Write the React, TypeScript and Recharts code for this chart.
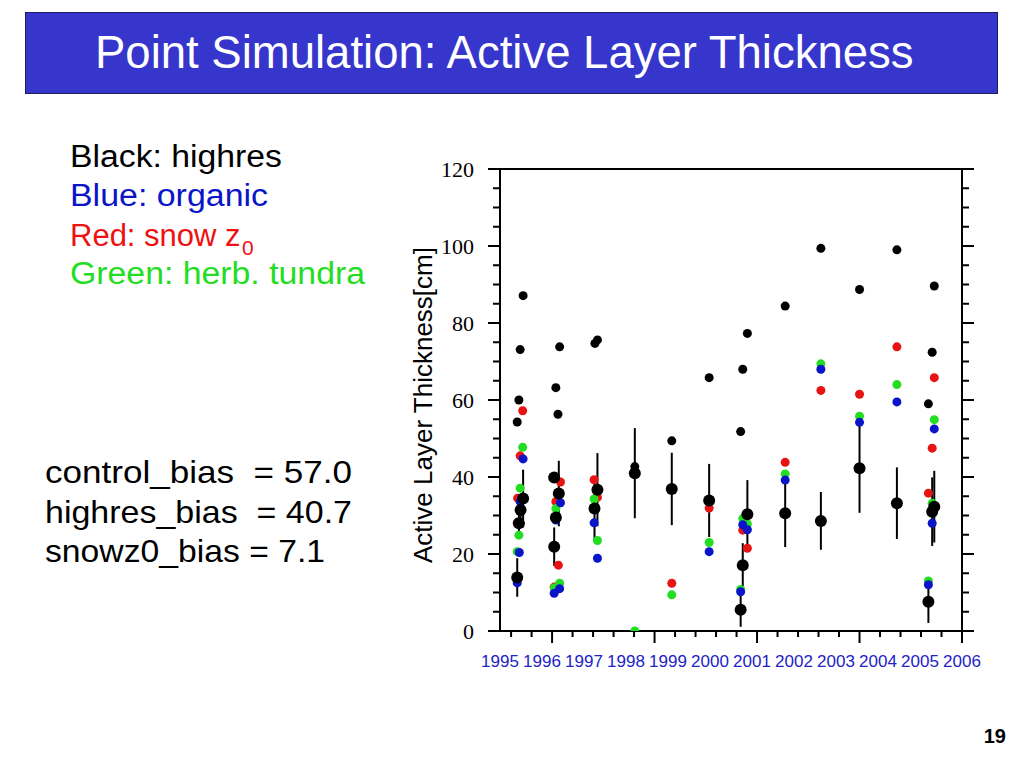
import React from "react";
import { ScatterChart, Scatter, XAxis, YAxis, ErrorBar } from "recharts";

// x = decimal year, y = active layer thickness (cm)
const highres = [
  { x: 1995.55, y: 87.1 }, { x: 1995.48, y: 73.1 }, { x: 1995.45, y: 60.0 }, { x: 1995.41, y: 54.3 },
  { x: 1996.42, y: 73.8 }, { x: 1996.33, y: 63.2 }, { x: 1996.38, y: 56.3 },
  { x: 1997.26, y: 74.7 }, { x: 1997.32, y: 75.6 },
  { x: 1998.21, y: 42.7 },
  { x: 1999.09, y: 49.4 },
  { x: 1999.98, y: 65.8 },
  { x: 2000.89, y: 77.3 }, { x: 2000.78, y: 68.0 }, { x: 2000.73, y: 51.8 },
  { x: 2001.79, y: 84.4 },
  { x: 2002.64, y: 99.4 },
  { x: 2003.56, y: 88.7 },
  { x: 2004.45, y: 99.0 },
  { x: 2005.34, y: 89.6 }, { x: 2005.29, y: 72.4 }, { x: 2005.2, y: 59.0 },
];

const organic = [
  { x: 1995.55, y: 44.7 }, { x: 1995.48, y: 33.6 }, { x: 1995.46, y: 20.4 }, { x: 1995.41, y: 12.5 },
  { x: 1996.44, y: 33.3 }, { x: 1996.33, y: 28.8 }, { x: 1996.29, y: 9.8 }, { x: 1996.42, y: 11.0 },
  { x: 1997.24, y: 28.1 }, { x: 1997.32, y: 18.9 },
  { x: 1999.98, y: 20.6 },
  { x: 2000.78, y: 27.6 }, { x: 2000.89, y: 26.3 }, { x: 2000.73, y: 10.2 },
  { x: 2001.79, y: 39.2 },
  { x: 2002.64, y: 68.0 },
  { x: 2003.56, y: 54.2 },
  { x: 2004.45, y: 59.5 },
  { x: 2005.34, y: 52.5 }, { x: 2005.29, y: 28.0 }, { x: 2005.2, y: 12.0 },
];

const snowZ0 = [
  { x: 1995.54, y: 57.2 }, { x: 1995.48, y: 45.5 }, { x: 1995.42, y: 34.5 }, { x: 1995.41, y: 28.1 },
  { x: 1996.44, y: 38.7 }, { x: 1996.33, y: 33.6 }, { x: 1996.39, y: 17.1 }, { x: 1996.29, y: 11.4 },
  { x: 1997.24, y: 39.3 }, { x: 1997.32, y: 34.7 },
  { x: 1999.09, y: 12.4 },
  { x: 1999.98, y: 31.9 },
  { x: 2000.78, y: 26.2 }, { x: 2000.89, y: 21.5 },
  { x: 2001.79, y: 43.8 },
  { x: 2002.64, y: 62.5 },
  { x: 2003.56, y: 61.5 },
  { x: 2004.45, y: 73.8 },
  { x: 2005.34, y: 65.8 }, { x: 2005.29, y: 47.5 }, { x: 2005.2, y: 35.8 },
];

const herbTundra = [
  { x: 1995.54, y: 47.7 }, { x: 1995.48, y: 37.1 }, { x: 1995.45, y: 24.9 }, { x: 1995.41, y: 20.6 },
  { x: 1996.33, y: 31.8 }, { x: 1996.42, y: 12.4 }, { x: 1996.29, y: 11.2 },
  { x: 1997.24, y: 34.3 }, { x: 1997.32, y: 23.5 },
  { x: 1998.21, y: 0 },
  { x: 1999.09, y: 9.4 },
  { x: 1999.98, y: 23.0 },
  { x: 2000.78, y: 29.2 }, { x: 2000.89, y: 27.8 }, { x: 2000.73, y: 10.8 },
  { x: 2001.79, y: 40.8 },
  { x: 2002.64, y: 69.4 },
  { x: 2003.56, y: 55.8 },
  { x: 2004.45, y: 64.0 },
  { x: 2005.34, y: 54.9 }, { x: 2005.29, y: 33.2 }, { x: 2005.2, y: 13.0 },
];

// observed (big dots) with +/- spread
const observed = [
  { x: 1995.55, y: 34.4, sd: 7.5 }, { x: 1995.49, y: 31.4, sd: 3 }, { x: 1995.45, y: 28.0, sd: 3 }, { x: 1995.41, y: 13.9, sd: 5 },
  { x: 1996.29, y: 39.9, sd: 0 }, { x: 1996.4, y: 35.7, sd: 8.5 }, { x: 1996.33, y: 29.5, sd: 0 }, { x: 1996.29, y: 21.9, sd: 5 },
  { x: 1997.32, y: 36.7, sd: 9.5 }, { x: 1997.25, y: 31.8, sd: 8.4 },
  { x: 1998.21, y: 41.0, sd: 11.7 },
  { x: 1999.09, y: 36.9, sd: 9.4 },
  { x: 1999.98, y: 33.9, sd: 9.5 },
  { x: 2000.89, y: 30.3, sd: 8.9 }, { x: 2000.78, y: 17.1, sd: 5.7 }, { x: 2000.73, y: 5.5, sd: 4.4 },
  { x: 2001.79, y: 30.6, sd: 8.8 },
  { x: 2002.64, y: 28.6, sd: 7.5 },
  { x: 2003.56, y: 42.3, sd: 11.6 },
  { x: 2004.45, y: 33.2, sd: 9.3 },
  { x: 2005.34, y: 32.3, sd: 9.3 }, { x: 2005.29, y: 31.0, sd: 8.9 }, { x: 2005.2, y: 7.6, sd: 5.5 },
];

const YEARS = [1995, 1996, 1997, 1998, 1999, 2000, 2001, 2002, 2003, 2004, 2005, 2006];
const Y_LABELS = [0, 20, 40, 60, 80, 100, 120];

// frame tick marks (the plot's own time ticks, not the year labels)
const X_STEP = 0.488;
const X_TICKS = Array.from({ length: 23 }, (_, k) => Number((2006 - X_STEP * k).toFixed(3)));
const X_BOTTOM = Array.from(new Set([...X_TICKS, ...YEARS])).sort((a, b) => a - b);
const Y_TICKS = Array.from({ length: 25 }, (_, k) => k * 5);

const isMajorX = (v: number) => Math.round((2006 - v) / X_STEP) % 5 === 0;
const isMajorY = (v: number) => Y_LABELS.includes(v);

const SANS = "'Liberation Sans', Arial, Helvetica, sans-serif";
const SERIF = "'Liberation Serif', 'Times New Roman', serif";

const BottomTick = (p: any) => {
  const v = p.payload.value;
  return (
    <g>
      {X_TICKS.includes(v) && (
        <line x1={p.x} y1={p.y} x2={p.x} y2={p.y + (isMajorX(v) ? 12 : 6)} stroke="#000" strokeWidth={2} />
      )}
      {YEARS.includes(v) && (
        <text x={p.x} y={p.y + 36} textAnchor="middle" fontFamily={SANS} fontSize={17} fill="#2323c8">
          {v}
        </text>
      )}
    </g>
  );
};
const TopTick = (p: any) => (
  <line x1={p.x} y1={p.y} x2={p.x} y2={p.y - (isMajorX(p.payload.value) ? 12 : 6)} stroke="#000" strokeWidth={2} />
);
const LeftTick = (p: any) => {
  const major = isMajorY(p.payload.value);
  return (
    <g>
      <line x1={p.x} y1={p.y} x2={p.x - (major ? 12 : 7)} y2={p.y} stroke="#000" strokeWidth={2} />
      {major && (
        <text x={p.x - 26} y={p.y + 7.5} textAnchor="end" fontFamily={SERIF} fontSize={22} fill="#000">
          {p.payload.value}
        </text>
      )}
    </g>
  );
};
const RightTick = (p: any) => (
  <line x1={p.x} y1={p.y} x2={p.x + (isMajorY(p.payload.value) ? 12 : 7)} y2={p.y} stroke="#000" strokeWidth={2} />
);

const dot = (r: number, fill: string) => (p: any) => <circle cx={p.cx} cy={p.cy} r={r} fill={fill} />;

const AXIS_LINE = { stroke: "#000", strokeWidth: 2 };

export default function App() {
  return (
    <div style={{ position: "absolute", left: 0, top: 0, width: 1024, height: 768, background: "#fff", overflow: "hidden" }}>
      <svg width={1024} height={768} style={{ position: "absolute", left: 0, top: 0 }}>
        <rect x={25.5} y={12.5} width={972} height={81} fill="#3636cc" stroke="#1e1e5a" />
        <text x={95} y={68} fill="#fff" fontSize={45.5} fontFamily={SANS}>
          Point Simulation: Active Layer Thickness
        </text>

        <text x={70} y={167} fontSize={31} fontFamily={SANS} fill="#000" textLength={212} lengthAdjust="spacingAndGlyphs">
          Black: highres
        </text>
        <text x={70} y={206} fontSize={31} fontFamily={SANS} fill="#0a14c8" textLength={198} lengthAdjust="spacingAndGlyphs">
          Blue: organic
        </text>
        <text x={70} y={246} fontSize={31} fontFamily={SANS} fill="#ee1111">
          Red: snow z
          <tspan dx={1.5} dy={9} fontSize={21}>
            0
          </tspan>
        </text>
        <text x={70} y={284} fontSize={31} fontFamily={SANS} fill="#22dd22" textLength={295} lengthAdjust="spacingAndGlyphs">
          Green: herb. tundra
        </text>

        <text x={45} y={483} fontSize={32} fontFamily={SANS} fill="#000" style={{ whiteSpace: "pre" }} textLength={307} lengthAdjust="spacingAndGlyphs">
          {"control_bias  = 57.0"}
        </text>
        <text x={45} y={523} fontSize={32} fontFamily={SANS} fill="#000" style={{ whiteSpace: "pre" }} textLength={307} lengthAdjust="spacingAndGlyphs">
          {"highres_bias  = 40.7"}
        </text>
        <text x={45} y={562} fontSize={32} fontFamily={SANS} fill="#000" style={{ whiteSpace: "pre" }} textLength={280} lengthAdjust="spacingAndGlyphs">
          {"snowz0_bias = 7.1"}
        </text>

        <text transform="translate(432, 405) rotate(-90)" textAnchor="middle" fontSize={26} fontFamily={SANS} fill="#000">
          Active Layer Thickness[cm]
        </text>

        <text x={1006} y={743} textAnchor="end" fontSize={20} fontWeight="bold" fontFamily={SANS} fill="#000">
          19
        </text>
      </svg>

      <div style={{ position: "absolute", left: 0, top: 0 }}>
        <ScatterChart width={1024} height={768} margin={{ top: 149, right: 42, bottom: 97, left: 440 }}>
          <XAxis
            xAxisId="main"
            type="number"
            dataKey="x"
            domain={[1995, 2006]}
            allowDataOverflow
            ticks={X_BOTTOM}
            interval={0}
            height={40}
            tickSize={0}
            tickMargin={0}
            tickLine={false}
            axisLine={AXIS_LINE}
            tick={BottomTick}
          />
          <XAxis
            xAxisId="top"
            orientation="top"
            type="number"
            domain={[1995, 2006]}
            allowDataOverflow
            ticks={X_TICKS}
            interval={0}
            height={20}
            tickSize={0}
            tickMargin={0}
            tickLine={false}
            axisLine={AXIS_LINE}
            tick={TopTick}
          />
          <YAxis
            yAxisId="left"
            type="number"
            dataKey="y"
            domain={[0, 120]}
            allowDataOverflow
            ticks={Y_TICKS}
            interval={0}
            width={60}
            tickSize={0}
            tickMargin={0}
            tickLine={false}
            axisLine={AXIS_LINE}
            tick={LeftTick}
          />
          <YAxis
            yAxisId="right"
            orientation="right"
            type="number"
            domain={[0, 120]}
            allowDataOverflow
            ticks={Y_TICKS}
            interval={0}
            width={20}
            tickSize={0}
            tickMargin={0}
            tickLine={false}
            axisLine={AXIS_LINE}
            tick={RightTick}
          />

          <Scatter data={snowZ0} xAxisId="main" yAxisId="left" shape={dot(4.5, "#e81414")} isAnimationActive={false} />
          <Scatter data={herbTundra} xAxisId="main" yAxisId="left" shape={dot(4.5, "#22dd22")} isAnimationActive={false} />
          <Scatter data={organic} xAxisId="main" yAxisId="left" shape={dot(4.5, "#0a14c8")} isAnimationActive={false} />
          <Scatter data={highres} xAxisId="main" yAxisId="left" shape={dot(4.5, "#000")} isAnimationActive={false} />
          <Scatter data={observed} xAxisId="main" yAxisId="left" shape={dot(6, "#000")} isAnimationActive={false}>
            <ErrorBar dataKey="sd" direction="y" width={0} stroke="#000" strokeWidth={2} isAnimationActive={false} />
          </Scatter>
        </ScatterChart>
      </div>
    </div>
  );
}
